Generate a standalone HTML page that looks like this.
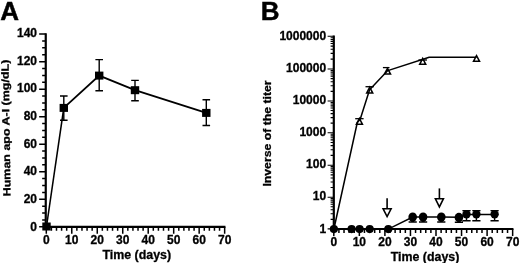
<!DOCTYPE html>
<html><head><meta charset="utf-8"><title>Figure</title>
<style>html,body{margin:0;padding:0;background:#fff}svg{display:block;filter:blur(0.35px)}text{stroke:#000;stroke-width:.3px}text.big{stroke-width:.45px}</style>
</head><body>
<svg width="520" height="263" viewBox="0 0 520 263" font-family='"Liberation Sans", sans-serif' fill="#000">
<text x="0.3" y="20.2" font-size="26" font-weight="bold" class="big">A</text>
<path d="M45.75 33.30 V226.80 H225.45" fill="none" stroke="#000" stroke-width="2.2"/>
<path d="M39.15 226.80H45.75M42.15 219.92H45.75M42.15 213.04H45.75M42.15 206.15H45.75M39.15 199.27H45.75M42.15 192.39H45.75M42.15 185.51H45.75M42.15 178.62H45.75M39.15 171.74H45.75M42.15 164.86H45.75M42.15 157.98H45.75M42.15 151.10H45.75M39.15 144.21H45.75M42.15 137.33H45.75M42.15 130.45H45.75M42.15 123.57H45.75M39.15 116.69H45.75M42.15 109.80H45.75M42.15 102.92H45.75M42.15 96.04H45.75M39.15 89.16H45.75M42.15 82.28H45.75M42.15 75.39H45.75M42.15 68.51H45.75M39.15 61.63H45.75M42.15 54.75H45.75M42.15 47.86H45.75M42.15 40.98H45.75M39.15 34.10H45.75" stroke="#000" stroke-width="1.5" fill="none"/>
<text x="37.0" y="230.68" font-size="12" font-weight="bold" text-anchor="end">0</text>
<text x="37.0" y="203.04" font-size="12" font-weight="bold" text-anchor="end">20</text>
<text x="37.0" y="175.40" font-size="12" font-weight="bold" text-anchor="end">40</text>
<text x="37.0" y="147.76" font-size="12" font-weight="bold" text-anchor="end">60</text>
<text x="37.0" y="120.12" font-size="12" font-weight="bold" text-anchor="end">80</text>
<text x="37.0" y="92.48" font-size="12" font-weight="bold" text-anchor="end">100</text>
<text x="37.0" y="64.84" font-size="12" font-weight="bold" text-anchor="end">120</text>
<text x="37.0" y="37.20" font-size="12" font-weight="bold" text-anchor="end">140</text>
<path d="M46.30 226.80V233.70M51.40 226.80V230.70M56.49 226.80V230.70M61.59 226.80V230.70M66.68 226.80V230.70M71.78 226.80V233.70M76.87 226.80V230.70M81.97 226.80V230.70M87.07 226.80V230.70M92.16 226.80V230.70M97.26 226.80V233.70M102.35 226.80V230.70M107.45 226.80V230.70M112.54 226.80V230.70M117.64 226.80V230.70M122.74 226.80V233.70M127.83 226.80V230.70M132.93 226.80V230.70M138.02 226.80V230.70M143.12 226.80V230.70M148.21 226.80V233.70M153.31 226.80V230.70M158.41 226.80V230.70M163.50 226.80V230.70M168.60 226.80V230.70M173.69 226.80V233.70M178.79 226.80V230.70M183.88 226.80V230.70M188.98 226.80V230.70M194.08 226.80V230.70M199.17 226.80V233.70M204.27 226.80V230.70M209.36 226.80V230.70M214.46 226.80V230.70M219.55 226.80V230.70M224.65 226.80V233.70" stroke="#000" stroke-width="1.5" fill="none"/>
<text x="46.30" y="243.6" font-size="12" font-weight="bold" text-anchor="middle">0</text>
<text x="71.78" y="243.6" font-size="12" font-weight="bold" text-anchor="middle">10</text>
<text x="97.26" y="243.6" font-size="12" font-weight="bold" text-anchor="middle">20</text>
<text x="122.74" y="243.6" font-size="12" font-weight="bold" text-anchor="middle">30</text>
<text x="148.21" y="243.6" font-size="12" font-weight="bold" text-anchor="middle">40</text>
<text x="173.69" y="243.6" font-size="12" font-weight="bold" text-anchor="middle">50</text>
<text x="199.17" y="243.6" font-size="12" font-weight="bold" text-anchor="middle">60</text>
<text x="224.65" y="243.6" font-size="12" font-weight="bold" text-anchor="middle">70</text>
<text x="136.8" y="259" font-size="12.4" font-weight="bold" text-anchor="middle">Time (days)</text>
<text transform="translate(9.6 128.0) rotate(-90.85) scale(1.2 1)" font-size="10.4" font-weight="bold" text-anchor="middle">Human apo A-I (mg/dL)</text>
<polyline points="46.5,226.5 63.8,107.9" fill="none" stroke="#000" stroke-width="1.55"/>
<polyline points="63.8,107.9 99.2,75.6 135.0,90.2 206.3,112.9" fill="none" stroke="#000" stroke-width="1.8"/>
<path d="M63.8 96.0V120.2M60.0 96.0h7.6M60.0 120.2h7.6M99.2 59.6V90.7M95.4 59.6h7.6M95.4 90.7h7.6M135.0 80.4V100.7M131.2 80.4h7.6M131.2 100.7h7.6M206.3 99.7V125.5M202.5 99.7h7.6M202.5 125.5h7.6" stroke="#000" stroke-width="1.4" fill="none"/>
<rect x="42.3" y="222.5" width="8.4" height="8.0" fill="#000"/>
<rect x="59.6" y="103.9" width="8.4" height="8.0" fill="#000"/>
<rect x="95.0" y="71.6" width="8.4" height="8.0" fill="#000"/>
<rect x="130.8" y="86.2" width="8.4" height="8.0" fill="#000"/>
<rect x="202.1" y="108.9" width="8.4" height="8.0" fill="#000"/>
<text x="260.7" y="20.1" font-size="26" font-weight="bold" class="big">B</text>
<path d="M333.80 35.50 V229.00 H513.45" fill="none" stroke="#000" stroke-width="2.2"/>
<path d="M327.60 228.90H333.80M330.60 219.36H333.80M330.60 213.78H333.80M330.60 209.81H333.80M330.60 206.74H333.80M330.60 204.23H333.80M330.60 202.11H333.80M330.60 200.27H333.80M330.60 198.65H333.80M327.60 197.20H333.80M330.60 187.57H333.80M330.60 181.93H333.80M330.60 177.93H333.80M330.60 174.83H333.80M330.60 172.30H333.80M330.60 170.16H333.80M330.60 168.30H333.80M330.60 166.66H333.80M327.60 165.20H333.80M330.60 155.42H333.80M330.60 149.69H333.80M330.60 145.63H333.80M330.60 142.48H333.80M330.60 139.91H333.80M330.60 137.73H333.80M330.60 135.85H333.80M330.60 134.19H333.80M327.60 132.70H333.80M330.60 123.16H333.80M330.60 117.58H333.80M330.60 113.61H333.80M330.60 110.54H333.80M330.60 108.03H333.80M330.60 105.91H333.80M330.60 104.07H333.80M330.60 102.45H333.80M327.60 101.00H333.80M330.60 91.37H333.80M330.60 85.73H333.80M330.60 81.73H333.80M330.60 78.63H333.80M330.60 76.10H333.80M330.60 73.96H333.80M330.60 72.10H333.80M330.60 70.46H333.80M327.60 69.00H333.80M330.60 59.16H333.80M330.60 53.40H333.80M330.60 49.31H333.80M330.60 46.14H333.80M330.60 43.55H333.80M330.60 41.37H333.80M330.60 39.47H333.80M330.60 37.80H333.80M327.60 36.30H333.80" stroke="#000" stroke-width="1.1" fill="none"/>
<text x="326.10" y="233.10" font-size="12" font-weight="bold" text-anchor="end">1</text>
<text x="326.10" y="199.90" font-size="12" font-weight="bold" text-anchor="end">10</text>
<text x="326.10" y="167.90" font-size="12" font-weight="bold" text-anchor="end">100</text>
<text x="326.10" y="135.90" font-size="12" font-weight="bold" text-anchor="end">1000</text>
<text x="326.10" y="104.40" font-size="12" font-weight="bold" text-anchor="end">10000</text>
<text x="326.10" y="72.00" font-size="12" font-weight="bold" text-anchor="end">100000</text>
<text x="326.10" y="39.80" font-size="12" font-weight="bold" text-anchor="end">1000000</text>
<path d="M333.80 229.00V235.90M338.91 229.00V232.90M344.02 229.00V232.90M349.13 229.00V232.90M354.24 229.00V232.90M359.35 229.00V235.90M364.46 229.00V232.90M369.57 229.00V232.90M374.68 229.00V232.90M379.79 229.00V232.90M384.90 229.00V235.90M390.01 229.00V232.90M395.12 229.00V232.90M400.23 229.00V232.90M405.34 229.00V232.90M410.45 229.00V235.90M415.56 229.00V232.90M420.67 229.00V232.90M425.78 229.00V232.90M430.89 229.00V232.90M436.00 229.00V235.90M441.11 229.00V232.90M446.22 229.00V232.90M451.33 229.00V232.90M456.44 229.00V232.90M461.55 229.00V235.90M466.66 229.00V232.90M471.77 229.00V232.90M476.88 229.00V232.90M481.99 229.00V232.90M487.10 229.00V235.90M492.21 229.00V232.90M497.32 229.00V232.90M502.43 229.00V232.90M507.54 229.00V232.90M512.65 229.00V235.90" stroke="#000" stroke-width="1.5" fill="none"/>
<text x="333.80" y="246.4" font-size="12" font-weight="bold" text-anchor="middle">0</text>
<text x="359.35" y="246.4" font-size="12" font-weight="bold" text-anchor="middle">10</text>
<text x="384.90" y="246.4" font-size="12" font-weight="bold" text-anchor="middle">20</text>
<text x="410.45" y="246.4" font-size="12" font-weight="bold" text-anchor="middle">30</text>
<text x="436.00" y="246.4" font-size="12" font-weight="bold" text-anchor="middle">40</text>
<text x="461.55" y="246.4" font-size="12" font-weight="bold" text-anchor="middle">50</text>
<text x="487.10" y="246.4" font-size="12" font-weight="bold" text-anchor="middle">60</text>
<text x="512.65" y="246.4" font-size="12" font-weight="bold" text-anchor="middle">70</text>
<text x="425.0" y="260.5" font-size="12.4" font-weight="bold" text-anchor="middle">Time (days)</text>
<text transform="translate(270.8 133.5) rotate(-90) scale(1.19 1)" font-size="10.3" font-weight="bold" text-anchor="middle">Inverse of the titer</text>
<path d="M355.15 124.90L359.40 116.80L363.65 124.90Z" fill="#000"/>
<path d="M357.70 123.40L359.40 120.00L361.10 123.40Z" fill="#fff"/>
<path d="M365.45 93.70L369.70 85.60L373.95 93.70Z" fill="#000"/>
<path d="M368.00 92.20L369.70 88.80L371.40 92.20Z" fill="#fff"/>
<path d="M383.25 74.80L387.50 66.70L391.75 74.80Z" fill="#000"/>
<path d="M385.80 73.30L387.50 69.90L389.20 73.30Z" fill="#fff"/>
<path d="M418.45 64.90L422.70 56.80L426.95 64.90Z" fill="#000"/>
<path d="M421.00 63.40L422.70 60.00L424.40 63.40Z" fill="#fff"/>
<path d="M472.25 62.05L476.50 53.95L480.75 62.05Z" fill="#000"/>
<path d="M474.80 60.55L476.50 57.15L478.20 60.55Z" fill="#fff"/>
<polyline points="333.9,229.0 357.3,122.5 360.2,119.2 369.6,89.7 387.8,70.6 429.2,57.3 476.5,57.3" fill="none" stroke="#000" stroke-width="1.5" stroke-linejoin="round"/>
<path d="M355.2 118.7H363.6" stroke="#000" stroke-width="1.3" fill="none"/>
<path d="M365.5 86.7H373.9" stroke="#000" stroke-width="1.3" fill="none"/>
<path d="M382.9 67.6H389.5" stroke="#000" stroke-width="1.3" fill="none"/>
<path d="M418.4 60.0H427.0" stroke="#000" stroke-width="1.3" fill="none"/>
<polyline points="333.9,229.1 351.6,229.1 359.6,229.1 369.7,229.1 388.3,229.1 412.7,217.0 423.1,217.0 441.3,217.0 458.9,217.3 466.5,214.5 476.4,214.5 494.6,214.5" fill="none" stroke="#000" stroke-width="1.5"/>
<path d="M408.6 222.0h8.2M411.2 221.3h3M419.0 222.0h8.2M421.6 221.3h3M437.2 222.0h8.2M439.8 221.3h3M454.8 222.3h8.2M457.4 221.6h3M466.5 210.5V220.7M462.4 220.7h8.2M462.4 210.6h8.2M476.4 210.5V220.7M472.3 220.7h8.2M472.3 210.6h8.2M494.6 210.5V220.7M490.5 220.7h8.2M490.5 210.6h8.2" stroke="#000" stroke-width="1.4" fill="none"/>
<circle cx="333.9" cy="229.1" r="4.1" fill="#000"/>
<circle cx="351.6" cy="229.1" r="4.1" fill="#000"/>
<circle cx="359.6" cy="229.1" r="4.1" fill="#000"/>
<circle cx="369.7" cy="229.1" r="4.1" fill="#000"/>
<circle cx="388.3" cy="229.1" r="4.1" fill="#000"/>
<ellipse cx="412.7" cy="217.1" rx="4.3" ry="4.6" fill="#000"/>
<ellipse cx="423.1" cy="217.1" rx="4.3" ry="4.6" fill="#000"/>
<ellipse cx="441.3" cy="217.1" rx="4.3" ry="4.6" fill="#000"/>
<ellipse cx="458.9" cy="217.4" rx="4.3" ry="4.6" fill="#000"/>
<circle cx="466.5" cy="214.2" r="4.2" fill="#000"/>
<circle cx="476.4" cy="214.2" r="4.2" fill="#000"/>
<circle cx="494.6" cy="214.2" r="4.2" fill="#000"/>
<path d="M387.1 198.2V208.8" stroke="#000" stroke-width="1.6" fill="none"/>
<path d="M383.1 208.8H391.1L387.1 216.6Z" fill="#fff" stroke="#000" stroke-width="1.6"/>
<path d="M439.4 188.4V198.8" stroke="#000" stroke-width="1.6" fill="none"/>
<path d="M435.4 198.8H443.4L439.4 206.9Z" fill="#fff" stroke="#000" stroke-width="1.6"/>
</svg>
</body></html>
